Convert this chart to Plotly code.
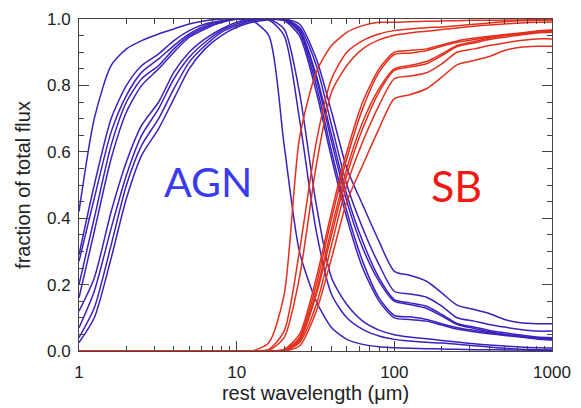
import plotly.graph_objects as go

# rest wavelength grid (micron)
wavelength = [1, 1.25, 1.6, 2, 2.5, 3.2, 4, 5, 6.3, 8, 10, 12.5, 16, 20, 25, 32, 40, 50, 63, 80,
              100, 125, 160, 200, 250, 320, 400, 500, 630, 800, 1000]

# AGN fraction curves
agn_1 = [0.42, 0.70, 0.86, 0.91, 0.935, 0.955, 0.97, 0.985, 0.995, 1.0, 1.0, 0.995, 0.95, 0.62, 0.30, 0.15, 0.07, 0.035, 0.02, 0.013,
         0.01, 0.008, 0.007, 0.006, 0.005, 0.004, 0.004, 0.003, 0.003, 0.002, 0.002]
agn_2 = [0.27, 0.46, 0.66, 0.77, 0.84, 0.88, 0.92, 0.955, 0.98, 0.993, 1.0, 1.0, 0.997, 0.95, 0.70, 0.36, 0.17, 0.10, 0.065, 0.045,
         0.035, 0.03, 0.026, 0.024, 0.02, 0.016, 0.012, 0.008, 0.005, 0.004, 0.003]
agn_3 = [0.07, 0.18, 0.37, 0.53, 0.65, 0.73, 0.82, 0.885, 0.93, 0.965, 0.985, 0.997, 1.0, 0.97, 0.78, 0.44, 0.22, 0.14, 0.09, 0.063,
         0.049, 0.042, 0.037, 0.032, 0.027, 0.022, 0.018, 0.015, 0.012, 0.01, 0.009]
agn_4 = [0.12, 0.22, 0.42, 0.57, 0.68, 0.75, 0.84, 0.90, 0.94, 0.97, 0.99, 1.0, 1.0, 1.0, 0.985, 0.88, 0.72, 0.55, 0.44, 0.33,
         0.24, 0.228, 0.21, 0.175, 0.138, 0.125, 0.113, 0.095, 0.085, 0.082, 0.082]
agn_5 = [0.29, 0.50, 0.70, 0.80, 0.86, 0.895, 0.935, 0.965, 0.985, 0.995, 1.0, 1.0, 1.0, 1.0, 0.975, 0.86, 0.68, 0.50, 0.37, 0.26,
         0.18, 0.172, 0.162, 0.135, 0.10, 0.09, 0.08, 0.072, 0.065, 0.06, 0.06]
agn_6 = [0.04, 0.13, 0.32, 0.50, 0.62, 0.70, 0.79, 0.87, 0.92, 0.96, 0.98, 0.995, 1.0, 1.0, 0.97, 0.83, 0.65, 0.47, 0.33, 0.22,
         0.155, 0.145, 0.135, 0.11, 0.083, 0.072, 0.062, 0.055, 0.048, 0.042, 0.04]
agn_7 = [0.20, 0.40, 0.62, 0.75, 0.82, 0.86, 0.91, 0.95, 0.975, 0.99, 1.0, 1.0, 1.0, 0.995, 0.965, 0.82, 0.63, 0.45, 0.31, 0.21,
         0.15, 0.14, 0.128, 0.105, 0.08, 0.068, 0.058, 0.05, 0.044, 0.04, 0.037]
agn_8 = [0.025, 0.10, 0.28, 0.46, 0.59, 0.67, 0.76, 0.85, 0.91, 0.95, 0.975, 0.99, 0.998, 1.0, 0.96, 0.80, 0.60, 0.42, 0.27, 0.16,
         0.107, 0.103, 0.095, 0.082, 0.07, 0.062, 0.055, 0.05, 0.045, 0.038, 0.035]
agn_9 = [0.16, 0.36, 0.58, 0.72, 0.80, 0.85, 0.90, 0.945, 0.97, 0.99, 1.0, 1.0, 1.0, 0.995, 0.95, 0.78, 0.58, 0.40, 0.25, 0.15,
         0.10, 0.095, 0.09, 0.078, 0.066, 0.058, 0.052, 0.047, 0.042, 0.036, 0.033]

# starburst fraction curves
sb_1 = [0, 0, 0, 0, 0, 0, 0, 0, 0, 0, 0, 0.0, 0.025, 0.17, 0.64, 0.84, 0.92, 0.96, 0.98, 0.99,
        0.99, 0.992, 0.993, 0.994, 0.995, 0.996, 0.996, 0.997, 0.997, 0.998, 0.998]
sb_2 = [0, 0, 0, 0, 0, 0, 0, 0, 0, 0, 0, 0, 0.005, 0.06, 0.30, 0.63, 0.82, 0.90, 0.935, 0.955,
        0.965, 0.97, 0.974, 0.976, 0.98, 0.984, 0.988, 0.992, 0.995, 0.996, 0.997]
sb_3 = [0, 0, 0, 0, 0, 0, 0, 0, 0, 0, 0, 0, 0.002, 0.04, 0.22, 0.56, 0.78, 0.86, 0.91, 0.937,
        0.951, 0.958, 0.963, 0.968, 0.973, 0.978, 0.982, 0.985, 0.988, 0.99, 0.991]
sb_4 = [0, 0, 0, 0, 0, 0, 0, 0, 0, 0, 0, 0, 0, 0.0, 0.015, 0.12, 0.28, 0.45, 0.56, 0.67,
        0.76, 0.772, 0.79, 0.825, 0.862, 0.875, 0.887, 0.905, 0.915, 0.918, 0.918]
sb_5 = [0, 0, 0, 0, 0, 0, 0, 0, 0, 0, 0, 0, 0, 0.0, 0.025, 0.14, 0.32, 0.50, 0.63, 0.74,
        0.82, 0.828, 0.838, 0.865, 0.90, 0.91, 0.92, 0.928, 0.935, 0.94, 0.94]
sb_6 = [0, 0, 0, 0, 0, 0, 0, 0, 0, 0, 0, 0, 0, 0.0, 0.03, 0.17, 0.35, 0.53, 0.67, 0.78,
        0.845, 0.855, 0.865, 0.89, 0.917, 0.928, 0.938, 0.945, 0.952, 0.958, 0.96]
sb_7 = [0, 0, 0, 0, 0, 0, 0, 0, 0, 0, 0, 0, 0, 0.005, 0.035, 0.18, 0.37, 0.55, 0.69, 0.79,
        0.85, 0.86, 0.872, 0.895, 0.92, 0.932, 0.942, 0.95, 0.956, 0.96, 0.963]
sb_8 = [0, 0, 0, 0, 0, 0, 0, 0, 0, 0, 0, 0, 0, 0.0, 0.04, 0.20, 0.40, 0.58, 0.73, 0.84,
        0.893, 0.897, 0.905, 0.918, 0.93, 0.938, 0.945, 0.95, 0.955, 0.962, 0.965]
sb_9 = [0, 0, 0, 0, 0, 0, 0, 0, 0, 0, 0, 0, 0, 0.005, 0.05, 0.22, 0.42, 0.60, 0.75, 0.85,
        0.90, 0.905, 0.91, 0.922, 0.934, 0.942, 0.948, 0.953, 0.958, 0.964, 0.967]

agn_curves = [agn_1, agn_2, agn_3, agn_4, agn_5, agn_6, agn_7, agn_8, agn_9]
sb_curves = [sb_1, sb_2, sb_3, sb_4, sb_5, sb_6, sb_7, sb_8, sb_9]

x_ticks = [1, 10, 100, 1000]
x_minor = [m * 10 ** d for d in range(3) for m in range(2, 10)]

BLUE = "#3a22bd"
RED = "#e3301c"

fig = go.Figure()
for ys in agn_curves:
    fig.add_trace(go.Scatter(x=wavelength, y=ys, mode="lines",
                             line=dict(color=BLUE, width=1.5, shape="spline", smoothing=0.7),
                             showlegend=False, hoverinfo="skip"))
for ys in sb_curves:
    fig.add_trace(go.Scatter(x=wavelength, y=ys, mode="lines",
                             line=dict(color=RED, width=1.5, shape="spline", smoothing=0.7),
                             showlegend=False, hoverinfo="skip"))

tick_font = dict(family="Liberation Sans, Arial, sans-serif", size=17, color="#222")
title_font = dict(family="Liberation Sans, Arial, sans-serif", size=20, color="#222")

fig.update_layout(
    width=581, height=408,
    margin=dict(l=79, r=21, t=10, b=53),
    paper_bgcolor="white", plot_bgcolor="white",
    showlegend=False,
    xaxis=dict(type="log", range=[0, 3], tickvals=x_ticks, ticktext=[str(v) for v in x_ticks],
               ticks="inside", ticklen=10, tickwidth=1, tickcolor="#444",
               showline=True, linecolor="#444", linewidth=1, mirror="ticks",
               showgrid=False, zeroline=False, tickfont=tick_font, ticklabelstandoff=6,
               minor=dict(tickvals=x_minor, ticks="inside", ticklen=5, tickcolor="#444", showgrid=False),
               title=dict(text="rest wavelength (μm)", font=title_font, standoff=2)),
    yaxis=dict(range=[0, 1.0], dtick=0.2, tickformat=".1f",
               ticks="inside", ticklen=10, tickwidth=1, tickcolor="#444",
               showline=True, linecolor="#444", linewidth=1, mirror="ticks",
               showgrid=False, zeroline=False, tickfont=tick_font, ticklabelstandoff=4,
               minor=dict(dtick=0.05, ticks="inside", ticklen=5, tickcolor="#444", showgrid=False),
               title=dict(text="fraction of total flux", font=title_font, standoff=10)),
    annotations=[
        dict(text="AGN", xref="paper", yref="paper", x=0.272, y=0.51, showarrow=False,
             xanchor="center", yanchor="middle",
             font=dict(family="Lato, Open Sans, sans-serif", size=41, color="#3a3af0")),
        dict(text="SB", xref="paper", yref="paper", x=0.798, y=0.50, showarrow=False,
             xanchor="center", yanchor="middle",
             font=dict(family="Lato, Open Sans, sans-serif", size=43, color="#f01a14")),
    ],
)

fig.write_html("out.html")
